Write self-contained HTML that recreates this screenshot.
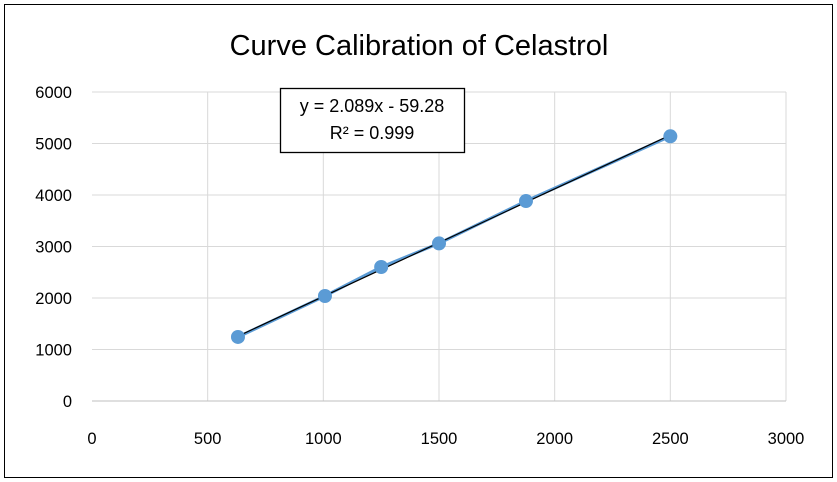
<!DOCTYPE html>
<html><head><meta charset="utf-8"><style>
body{margin:0;background:#fff;}
svg{display:block;font-family:"Liberation Sans",sans-serif;}
</style></head><body>
<svg width="837" height="482">
<rect x="4.5" y="4.5" width="828" height="473" fill="#fff" stroke="#000" stroke-width="1"/>
<text x="419" y="55" font-size="29" text-anchor="middle" fill="#000">Curve Calibration of Celastrol</text>
<g id="grid"></g><g id="axes"></g><g id="marks"></g>
<g>
<rect x="280.5" y="88.5" width="184" height="64" fill="#fff" stroke="#000" stroke-width="1.3"/>
<text x="372" y="112" font-size="18" text-anchor="middle">y = 2.089x - 59.28</text>
<text x="372" y="139" font-size="18" text-anchor="middle">R² = 0.999</text>
</g>
</svg>
<script>
const xTicks=[0,500,1000,1500,2000,2500,3000];
const yTicks=[0,1000,2000,3000,4000,5000,6000];
const xVals=[631,1007,1250,1500,1876,2500];
const yVals=[1243,2039,2602,3060,3883,5140];
const slope=2.089, intercept=-59.28;
const X0=92,X1=786,Y0=401,Y1=92;
const sx=v=>X0+(v-0)/(3000)*(X1-X0);
const sy=v=>Y0-(v)/(6000)*(Y0-Y1);
const NS='http://www.w3.org/2000/svg';
function mk(tag,attrs,parent,text){const e=document.createElementNS(NS,tag);for(const k in attrs)e.setAttribute(k,attrs[k]);if(text!==undefined)e.textContent=text;document.getElementById(parent).appendChild(e);return e;}
xTicks.forEach(t=>{
 if(t>0){const g=mk('line',{x1:sx(t),x2:sx(t),y1:Y1,y2:Y0,stroke:'#d9d9d9','stroke-width':1},'grid');
 
 }
 const l=mk('text',{x:sx(t),y:444,'font-size':16.5,'text-anchor':'middle'},'axes',t);
 
 
});
yTicks.forEach(t=>{
 if(t>0){const g=mk('line',{x1:X0,x2:X1,y1:sy(t),y2:sy(t),stroke:'#d9d9d9','stroke-width':1},'grid');
 
 }
 const l=mk('text',{x:72,y:sy(t)+6,'font-size':16.5,'text-anchor':'end'},'axes',t);
 
 
});
const xa=mk('line',{x1:X0,x2:X1,y1:Y0,y2:Y0,stroke:'#bfbfbf','stroke-width':1},'axes');


const d=xVals.map((v,i)=>(i?'L':'M')+sx(v)+','+sy(yVals[i])).join(' ');
const sl=mk('path',{d:d,fill:'none',stroke:'#5b9bd5','stroke-width':3},'marks');


const xa0=xVals[0],xb=xVals[xVals.length-1];
const tl=mk('line',{x1:sx(xa0),y1:sy(slope*xa0+intercept),x2:sx(xb),y2:sy(slope*xb+intercept),stroke:'#000','stroke-width':1.2},'marks');


xVals.forEach((v,i)=>{
 const c=mk('circle',{cx:sx(v),cy:sy(yVals[i]),r:7,fill:'#5b9bd5'},'marks');
 
 
});
</script>
</body></html>
